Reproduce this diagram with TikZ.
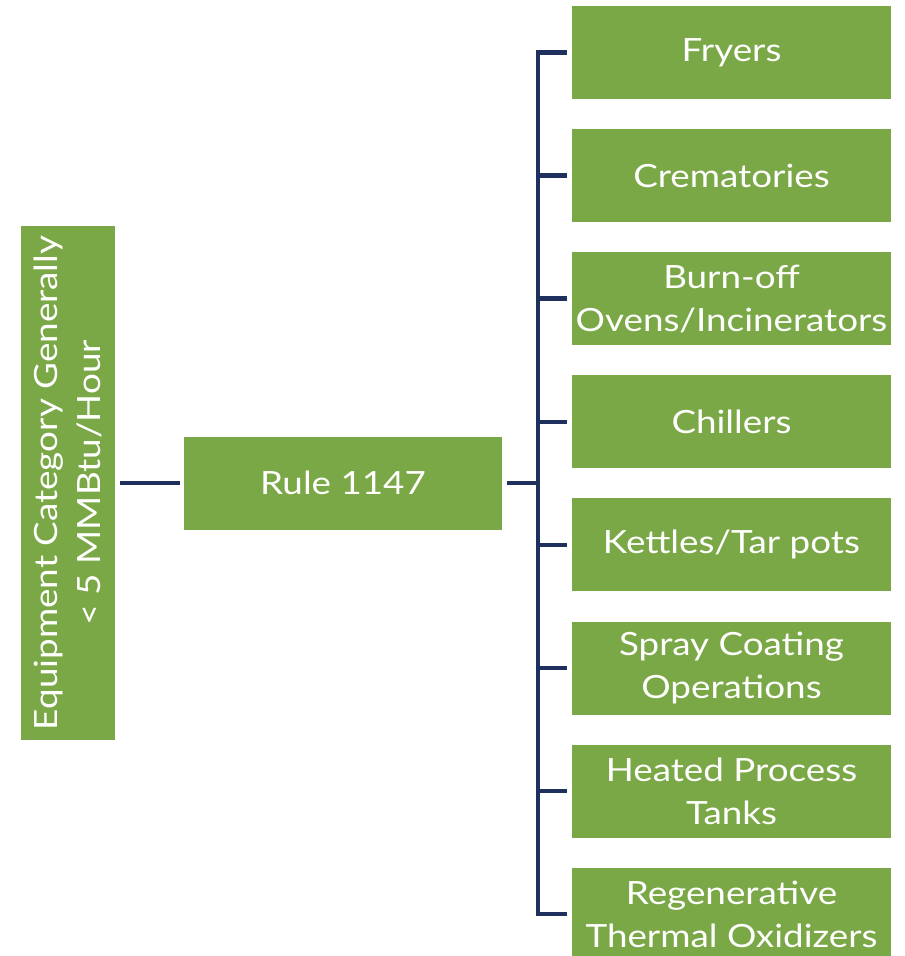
\documentclass[tikz,border=0pt]{standalone}
\usepackage{fontspec}
\setmainfont{Lato}[FakeStretch=1.15]
\definecolor{boxgreen}{RGB}{123,168,70}
\definecolor{linenavy}{RGB}{31,48,94}
\begin{document}
\begin{tikzpicture}[x=1pt,y=1pt,
  gbox/.style={fill=boxgreen, draw=none, text=white, align=center, inner sep=0pt,
    font=\fontsize{32}{43}\selectfont},
  rbox/.style={gbox, minimum width=319pt, minimum height=93pt},
  conn/.style={draw=linenavy, line width=4.5pt}]
\useasboundingbox (0,0) rectangle (905,-956);
\node[gbox, minimum width=514pt, minimum height=94pt, rotate=90] (left) at (68,-483) {Equipment Category Generally\\ {<} 5 MMBtu/Hour};
\node[gbox, minimum width=318pt, minimum height=93pt] (rule) at (343,-483) {Rule 1147};
\node[rbox] (r1) at (731.5,-52.5) {Fryers};
\node[rbox] (r2) at (731.5,-175.6) {Crematories};
\node[rbox] (r3) at (731.5,-298.7) {Burn-off\\Ovens/Incinerators};
\node[rbox] (r4) at (731.5,-421.8) {Chillers};
\node[rbox] (r5) at (731.5,-544.9) {Kettles/Tar pots};
\node[rbox] (r6) at (731.5,-668.0) {Spray Coating\\Operations};
\node[rbox] (r7) at (731.5,-791.1) {Heated Process\\Tanks};
\node[rbox] (r8) at (731.5,-914.2) {Regenerative\\Thermal Oxidizers};
\coordinate (bus) at (538,-483);
\draw[conn] ([xshift=5pt]left.south) -- ([xshift=-4pt]rule.west);
\draw[conn] ([xshift=5pt]rule.east) -- (bus);
\draw[conn] ([xshift=-5pt]r1.west) -- (bus |- r1.west) -- (bus |- r8.west) -- ([xshift=-5pt]r8.west);
\foreach \n in {r2,r3,r4,r5,r6,r7}{
  \draw[conn] (bus |- \n.west) -- ([xshift=-5pt]\n.west);
}
\end{tikzpicture}
\end{document}
